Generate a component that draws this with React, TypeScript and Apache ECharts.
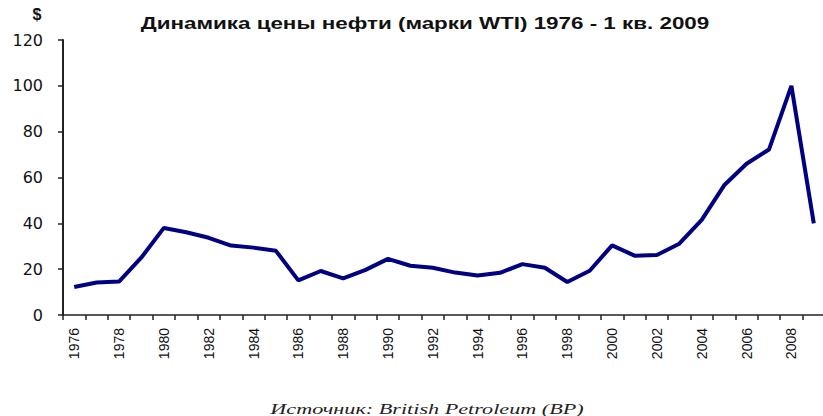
import React, { useEffect, useRef } from "react";
import * as echarts from "echarts";

const years: string[] = [
  "1976", "1977", "1978", "1979", "1980", "1981", "1982", "1983", "1984", "1985",
  "1986", "1987", "1988", "1989", "1990", "1991", "1992", "1993", "1994", "1995",
  "1996", "1997", "1998", "1999", "2000", "2001", "2002", "2003", "2004", "2005",
  "2006", "2007", "2008", "2009",
];
const prices: number[] = [
  12.2, 14.2, 14.6, 25.1, 38.0, 36.1, 33.7, 30.3, 29.4, 28.0,
  15.1, 19.2, 16.0, 19.7, 24.5, 21.5, 20.6, 18.5, 17.2, 18.4,
  22.2, 20.6, 14.4, 19.3, 30.4, 25.9, 26.2, 31.1, 41.5, 56.6,
  66.0, 72.2, 100.0, 40.0,
];
const titleText = "Динамика цены нефти (марки WTI) 1976 - 1 кв. 2009";
const unitText = "$";
const sourceText = "Источник: British Petroleum (BP)";

export default function App() {
  const ref = useRef<HTMLDivElement>(null);
  useEffect(() => {
    if (!ref.current) return;
    const chart = echarts.init(ref.current, null, { renderer: "svg" });
    chart.setOption({
      animation: false,
      backgroundColor: "#ffffff",
      graphic: [
        {
          type: "text",
          x: 425,
          y: 23.5,
          scaleX: 1.4,
          style: {
            text: titleText,
            align: "center",
            verticalAlign: "middle",
            font: "bold 16px 'Liberation Sans', Arial, sans-serif",
            fill: "#111",
          },
        },
        {
          type: "text",
          x: 37,
          y: 14,
          style: {
            text: unitText,
            align: "center",
            verticalAlign: "middle",
            font: "bold 16px 'Liberation Sans', Arial, sans-serif",
            fill: "#111",
          },
        },
        {
          type: "text",
          x: 427,
          y: 409,
          scaleX: 1.48,
          style: {
            text: sourceText,
            align: "center",
            verticalAlign: "middle",
            font: "italic 15px 'Liberation Serif', 'Times New Roman', serif",
            fill: "#222",
          },
        },
      ],
      grid: {
        left: 63,
        top: 40,
        width: 762,
        height: 275,
        outerBoundsMode: "none",
      },
      xAxis: {
        type: "category",
        data: years,
        boundaryGap: true,
        axisLine: { lineStyle: { color: "#222", width: 1.5 } },
        axisTick: { show: true, interval: 0, length: 5, lineStyle: { color: "#222", width: 1.5 } },
        axisLabel: {
          interval: 1,
          rotate: 90,
          margin: 13,
          fontSize: 14,
          fontFamily: "'Liberation Sans', Arial, sans-serif",
          color: "#111",
        },
        splitLine: { show: false },
      },
      yAxis: {
        type: "value",
        min: 0,
        max: 120,
        interval: 20,
        axisLine: { show: true, lineStyle: { color: "#222", width: 2 } },
        axisTick: { show: true, length: 5, lineStyle: { color: "#222", width: 1.5 } },
        axisLabel: {
          margin: 20,
          fontSize: 16,
          fontFamily: "'DejaVu Sans', sans-serif",
          color: "#111",
        },
        splitLine: { show: false },
      },
      series: [
        {
          type: "line",
          data: prices,
          symbol: "none",
          lineStyle: { color: "#000080", width: 4 },
        },
      ],
    });
    return () => chart.dispose();
  }, []);
  return (
    <div
      ref={ref}
      style={{ position: "fixed", left: 0, top: 0, width: 823, height: 416 }}
    />
  );
}
